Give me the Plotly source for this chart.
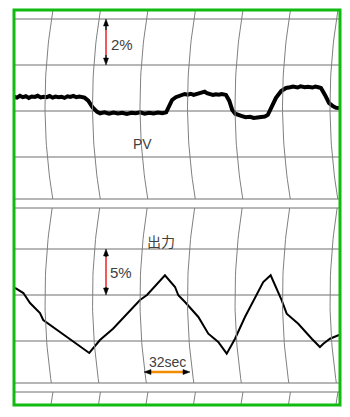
import numpy as np
import plotly.graph_objects as go

W, H = 350, 417

# ---------------- data ----------------
# PV (top channel): time [sec], value [%]
pv_t = [0, 2, 4, 6, 8, 10, 12, 14, 16, 18,
        20, 22, 24, 26, 28, 30, 32, 34, 36, 38,
        40, 42, 44, 46, 47.5, 50, 53, 56, 58, 61,
        64, 67, 70, 73, 76, 79, 82, 85, 88, 91,
        94, 97, 100, 102.5, 104, 106.5, 109, 111, 113, 115,
        117, 119, 121, 123, 125, 127, 128.5, 130, 132, 134,
        136, 138, 140, 142.8, 145, 147, 149, 151, 153.6, 156,
        159, 161.5, 164.4, 167, 169, 171, 174, 176.5, 180, 183.3,
        186, 188, 191, 193, 196, 198, 201, 203, 205, 206.8,
        209.5, 212.2, 215, 217, 219.6]
pv_v = [50.62, 50.58, 50.66, 50.60, 50.64, 50.57, 50.63, 50.61, 50.66, 50.59,
        50.62, 50.60, 50.65, 50.58, 50.63, 50.60, 50.62, 50.57, 50.64, 50.61,
        50.66, 50.60, 50.63, 50.59, 50.58, 50.45, 50.15, 49.96, 49.90, 49.94,
        49.88, 49.93, 49.89, 49.92, 49.87, 49.92, 49.90, 49.94, 49.88, 49.92,
        49.89, 49.93, 49.90, 49.94, 50.15, 50.48, 50.60, 50.66, 50.70, 50.74,
        50.71, 50.75, 50.70, 50.74, 50.76, 50.80, 50.84, 50.77, 50.74, 50.70,
        50.73, 50.71, 50.74, 50.70, 50.45, 50.05, 49.88, 49.82, 49.78, 49.73,
        49.75, 49.70, 49.72, 49.74, 49.76, 49.83, 50.20, 50.57, 50.87, 51.00,
        51.03, 51.06, 51.02, 51.07, 51.03, 51.05, 51.02, 51.06, 51.03, 51.00,
        50.70, 50.35, 50.20, 50.14, 50.13]

# 出力 (bottom channel): time [sec], value [%]
out_t = [0.7, 6.3, 10.8, 17.5, 19.7, 28.8, 36.6, 50.7, 57.9, 66.7,
         76.1, 84.9, 89.6, 96.3, 101.7, 108.5, 110.7, 115.2, 124.2, 130.9,
         137.6, 143.3, 148.9, 155.6, 162.4, 167.9, 172.9, 175.8, 180.3, 183.7,
         191.5, 200.6, 206.1, 208.4, 212.9, 218.5, 219.6]
out_v = [50.78, 50.22, 49.11, 48.00, 47.22, 46.11, 45.22, 43.56, 45.00, 46.26,
         47.92, 49.44, 50.00, 51.26, 52.19, 50.89, 49.97, 49.22, 47.56, 45.70,
         44.78, 43.48, 45.14, 47.56, 49.78, 51.44, 52.19, 51.11, 49.44, 47.92,
         46.81, 45.14, 44.22, 44.59, 45.14, 45.52, 45.56]

labels = {"pv": "PV", "out": "出力", "pv_span": "2%", "out_span": "5%", "time_span": "32sec"}

# ---------------- scales ----------------
LEFT_PX, TOP_PX, RIGHT_PX, BOT_PX = 14, 10, 340, 405
DIV_PX = 47.5            # one chart division
SEC_PER_DIV = 32
px_per_sec = DIV_PX / SEC_PER_DIV
x_range = [-LEFT_PX / px_per_sec, (W - LEFT_PX) / px_per_sec]

PV_PX_PER_PCT = 23.0     # 2 % per 46 px
PV_REF_PX = 111
pv_range = [50 - (H - PV_REF_PX) / PV_PX_PER_PCT, 50 + PV_REF_PX / PV_PX_PER_PCT]

OUT_PX_PER_PCT = 9.0     # 5 % per 45 px
OUT_REF_PX = 295
out_range = [50 - (H - OUT_REF_PX) / OUT_PX_PER_PCT, 50 + OUT_REF_PX / OUT_PX_PER_PCT]

fig = go.Figure()

# ---------------- chart paper: curved time lines ----------------
k = 0.00088
bands = [(TOP_PX, 199, 105), (208, 383, 298), (392, BOT_PX, 487)]
ax_list, ay_list = [], []
for i in range(7):
    cx = 45 + DIV_PX * i
    for y0, y1, yc in bands:
        ys = np.linspace(y0, y1, 40)
        xs = cx + k * (ys - yc) ** 2
        ax_list += list(xs) + [None]
        ay_list += list(ys) + [None]
fig.add_trace(go.Scatter(x=ax_list, y=ay_list, xaxis="x2", yaxis="y3", mode="lines",
                         line=dict(color="#808080", width=1), hoverinfo="skip", showlegend=False))

# horizontal chart lines
shapes = []
for gy in [19, 65, 111, 157, 199, 208, 249, 295, 341, 383, 392]:
    shapes.append(dict(type="line", xref="x2", yref="y3", x0=LEFT_PX, x1=RIGHT_PX, y0=gy, y1=gy,
                       line=dict(color="#6e6e6e", width=1), layer="below"))

# ---------------- traces ----------------
fig.add_trace(go.Scatter(x=pv_t, y=pv_v, xaxis="x", yaxis="y", mode="lines",
                         line=dict(color="black", width=4), showlegend=False, hoverinfo="skip"))
fig.add_trace(go.Scatter(x=out_t, y=out_v, xaxis="x", yaxis="y2", mode="lines",
                         line=dict(color="black", width=2), showlegend=False, hoverinfo="skip"))


def vert_arrow(x, y0, y1, r0, r1, col):
    s = []
    s.append(dict(type="line", xref="x2", yref="y3", x0=x, x1=x, y0=y0 + 5, y1=y1 - 5,
                  line=dict(color="black", width=1.5)))
    s.append(dict(type="line", xref="x2", yref="y3", x0=x, x1=x, y0=r0, y1=r1,
                  line=dict(color=col, width=2)))
    s.append(dict(type="path", xref="x2", yref="y3",
                  path=f"M {x-2.5} {y0+7} L {x} {y0} L {x+2.5} {y0+7} Z",
                  fillcolor="black", line=dict(color="black", width=0.5)))
    s.append(dict(type="path", xref="x2", yref="y3",
                  path=f"M {x-2.5} {y1-7} L {x} {y1} L {x+2.5} {y1-7} Z",
                  fillcolor="black", line=dict(color="black", width=0.5)))
    return s


def horiz_arrow(y, x0, x1, r0, r1, col):
    s = []
    s.append(dict(type="line", xref="x2", yref="y3", x0=x0 + 5, x1=x1 - 5, y0=y, y1=y,
                  line=dict(color="black", width=1.5)))
    s.append(dict(type="line", xref="x2", yref="y3", x0=r0, x1=r1, y0=y, y1=y,
                  line=dict(color=col, width=2.5)))
    s.append(dict(type="path", xref="x2", yref="y3",
                  path=f"M {x0+7} {y-2.5} L {x0} {y} L {x0+7} {y+2.5} Z",
                  fillcolor="black", line=dict(color="black", width=0.5)))
    s.append(dict(type="path", xref="x2", yref="y3",
                  path=f"M {x1-7} {y-2.5} L {x1} {y} L {x1-7} {y+2.5} Z",
                  fillcolor="black", line=dict(color="black", width=0.5)))
    return s


shapes += vert_arrow(106, 19, 65, 30, 55, "#f05a5a")
shapes += vert_arrow(106, 249, 295, 257, 287, "#f05a5a")
shapes += horiz_arrow(372, 144, 190, 150, 184, "#f28c00")

# green frame
shapes.append(dict(type="rect", xref="x2", yref="y3", x0=LEFT_PX, x1=RIGHT_PX, y0=TOP_PX, y1=BOT_PX,
                   line=dict(color="#11bb11", width=3), fillcolor="rgba(0,0,0,0)"))

latin = "Liberation Sans, Arial, sans-serif"
annots = [
    dict(text=labels["pv_span"], x=122, y=44, size=15, fam=latin),
    dict(text=labels["pv"], x=142, y=144, size=14, fam=latin),
    dict(text=labels["out"], x=161, y=241, size=14, fam="Noto Sans CJK JP"),
    dict(text=labels["out_span"], x=121, y=272, size=15, fam=latin),
    dict(text=labels["time_span"], x=167, y=362, size=14, fam=latin),
]
annotations = [dict(text=a["text"], x=a["x"], y=a["y"], xref="x2", yref="y3", showarrow=False,
                    xanchor="center", yanchor="middle",
                    font=dict(family=a["fam"], size=a["size"], color="#404040"))
               for a in annots]

fig.update_layout(
    width=W, height=H, margin=dict(l=0, r=0, t=0, b=0),
    paper_bgcolor="white", plot_bgcolor="white",
    xaxis=dict(range=x_range, visible=False, domain=[0, 1], fixedrange=True),
    yaxis=dict(range=pv_range, visible=False, domain=[0, 1], fixedrange=True),
    yaxis2=dict(range=out_range, visible=False, overlaying="y", fixedrange=True),
    xaxis2=dict(range=[0, W], visible=False, overlaying="x", fixedrange=True),
    yaxis3=dict(range=[H, 0], visible=False, overlaying="y", fixedrange=True),
    shapes=shapes, annotations=annotations, showlegend=False,
)

fig.write_html("out.html", config={"displayModeBar": False})
